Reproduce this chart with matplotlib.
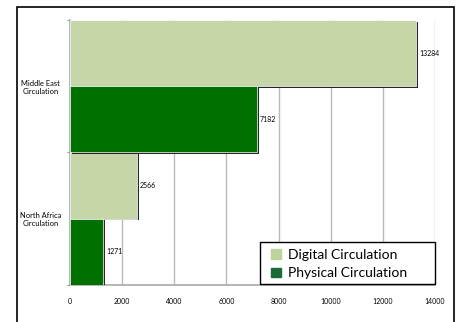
import matplotlib
matplotlib.use("Agg")
import matplotlib.pyplot as plt
import matplotlib.patheffects as pe
from matplotlib.patches import Patch, Rectangle
import numpy as np

plt.rcParams['font.family'] = ['Lato', 'DejaVu Sans']

categories = ["North Africa\nCirculation", "Middle East\nCirculation"]
series_names = ["Digital Circulation", "Physical Circulation"]
digital = [2566, 13284]
physical = [1271, 7182]
xticks = [0, 2000, 4000, 6000, 8000, 10000, 12000, 14000]

c_digital = "#C7D6A8"
c_physical = "#007000"

W, H = 463, 322
fig = plt.figure(figsize=(W/100, H/100), dpi=100)
fig.patches.append(Rectangle((17/W, -0.05), (454-17)/W, 1 - 7/H + 0.05,
                             transform=fig.transFigure, fill=False,
                             edgecolor="black", linewidth=1.2, zorder=0))
ax = fig.add_axes([70/W, 1 - 285/H, (435-70)/W, (285-20)/H])

y = np.arange(len(categories))
h = 0.5
shadow = [pe.SimplePatchShadow(offset=(1.2, -1.2), shadow_rgbFace="black", alpha=0.85), pe.Normal()]
b1 = ax.barh(y + h/2, digital, height=h, color=c_digital, edgecolor="white", linewidth=0.5, zorder=3)
b2 = ax.barh(y - h/2, physical, height=h, color=c_physical, edgecolor="white", linewidth=0.5, zorder=3)
for bars in (b1, b2):
    for p in bars:
        p.set_path_effects(shadow)
    ax.bar_label(bars, labels=[str(v) for v in bars.datavalues], padding=2, fontsize=5)

ax.set_xlim(0, 14000)
ax.set_ylim(-0.5, 1.5)
ax.set_xticks(xticks)
ax.set_xticklabels([str(t) for t in xticks], fontsize=5)
ax.tick_params(axis='x', length=0, pad=9)
ax.set_yticks([-0.5, 0.5, 1.5])
ax.set_yticklabels([])
ax.set_yticks(y, minor=True)
ax.set_yticklabels(categories, minor=True, fontsize=5.4, ha='center')
ax.tick_params(axis='y', which='minor', length=0, pad=21)
ax.tick_params(axis='y', which='major', length=2, color="#999999")
ax.xaxis.grid(True, color="#BBBBBB", linewidth=1)
ax.set_axisbelow(True)
for s in ["top", "right"]:
    ax.spines[s].set_visible(False)
for s in ["left", "bottom"]:
    ax.spines[s].set_color("#AAAAAA")
    ax.spines[s].set_linewidth(1.2)

# legend frame
fig.patches.append(Rectangle((260/W, 1 - 284/H), 175/W, 42/H, transform=fig.transFigure,
                             facecolor="white", edgecolor="black", linewidth=1, zorder=4))
handles = [Patch(color="#BDD39C"), Patch(color="#1A6B38")]
leg = fig.legend(handles, series_names, loc="center left",
                 bbox_to_anchor=(271/W, 1 - 264/H),
                 fontsize=10, frameon=False, handlelength=0.7,
                 handleheight=0.7, handletextpad=0.55, borderpad=0, labelspacing=0.5,
                 borderaxespad=0)
leg.set_zorder(5)

fig.savefig("out.png", dpi=100)
